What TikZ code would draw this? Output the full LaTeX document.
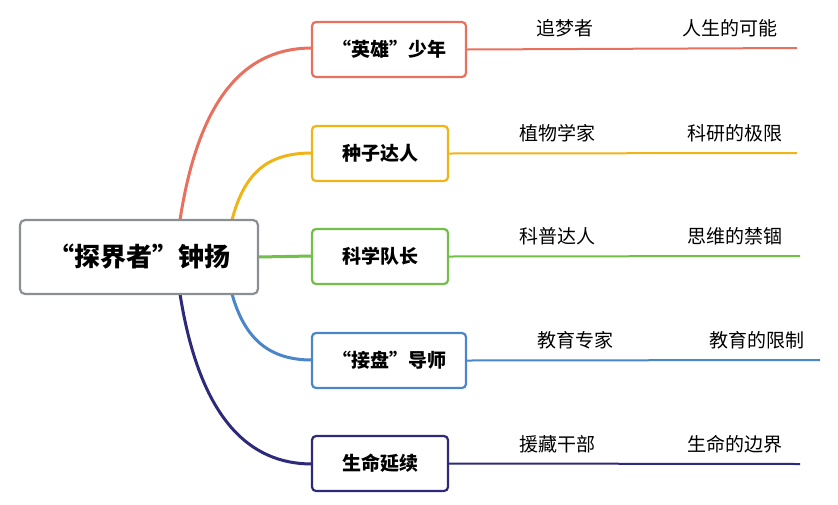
\documentclass[tikz,border=0pt]{standalone}
\usepackage{fontspec}
\setmainfont{Noto Sans CJK SC}
\begin{document}
\begin{tikzpicture}[x=1pt,y=-1pt,
  box/.style={draw=#1,line width=2.2pt,rounded corners=4pt,fill=white,font=\fontsize{19}{22}\selectfont\bfseries,inner sep=0pt,minimum height=55pt},
  lab/.style={font=\fontsize{19}{22}\selectfont,anchor=base},
  br/.style={draw=#1,line width=3pt}]
\definecolor{cr}{HTML}{E8705F}\definecolor{cy}{HTML}{EFB418}
\definecolor{cg}{HTML}{72BF4A}\definecolor{cb}{HTML}{4A86C8}
\definecolor{cn}{HTML}{2E2A7A}\definecolor{cgray}{HTML}{8A8F94}
\useasboundingbox (0,0) rectangle (838,504);
% branch curves
\coordinate (s1) at (180,220);\coordinate (s2) at (232,220);\coordinate (s3) at (258,257);
\coordinate (s4) at (232,294);\coordinate (s5) at (180,294);
\draw[br=cr] (s1) .. controls (200,90) and (250,48) .. (312,48);
\draw[br=cy] (s2) .. controls (245,170) and (270,153) .. (312,153);
\draw[br=cg] (s3) -- (312,256);
\draw[br=cb] (s4) .. controls (245,340) and (270,360) .. (312,360);
\draw[br=cn] (s5) .. controls (200,420) and (250,464) .. (312,464);
% root
\node[draw=cgray,line width=2.2pt,rounded corners=5pt,fill=white,minimum width=238pt,minimum height=74pt,font=\fontsize{26}{30}\selectfont\bfseries,inner sep=0pt] (root) at (139,257) {“探界者”钟扬};
% boxes
\node[box=cr,minimum width=154pt] (b1) at (389,49.5) {“英雄”少年};
\node[box=cy,minimum width=136pt] (b2) at (380,153.5) {种子达人};
\node[box=cg,minimum width=136pt] (b3) at (380,256.5) {科学队长};
\node[box=cb,minimum width=154pt] (b4) at (389,360.5) {“接盘”导师};
\node[box=cn,minimum width=136pt] (b5) at (380,463.5) {生命延续};
% lines
\coordinate (e1) at (797,48);\coordinate (e2) at (797,153);\coordinate (e3) at (800,256);
\coordinate (e4) at (820,360);\coordinate (e5) at (800,464);
\draw[cr,line width=2pt] (b1.east) -- (e1);
\draw[cy,line width=2pt] (b2.east) -- (e2);
\draw[cg,line width=2pt] (b3.east) -- (e3);
\draw[cb,line width=2pt] (b4.east) -- (e4);
\draw[cn,line width=2pt] (b5.east) -- (e5);
% labels
\node[lab] (l1a) at (565,35) {追梦者};\node[lab] (l1b) at (730,35) {人生的可能};
\node[lab] (l2a) at (557,140) {植物学家};\node[lab] (l2b) at (735,140) {科研的极限};
\node[lab] (l3a) at (557,243) {科普达人};\node[lab] (l3b) at (735,243) {思维的禁锢};
\node[lab] (l4a) at (575,347) {教育专家};\node[lab] (l4b) at (757,347) {教育的限制};
\node[lab] (l5a) at (557,451) {援藏干部};\node[lab] (l5b) at (735,451) {生命的边界};
\end{tikzpicture}
\end{document}
